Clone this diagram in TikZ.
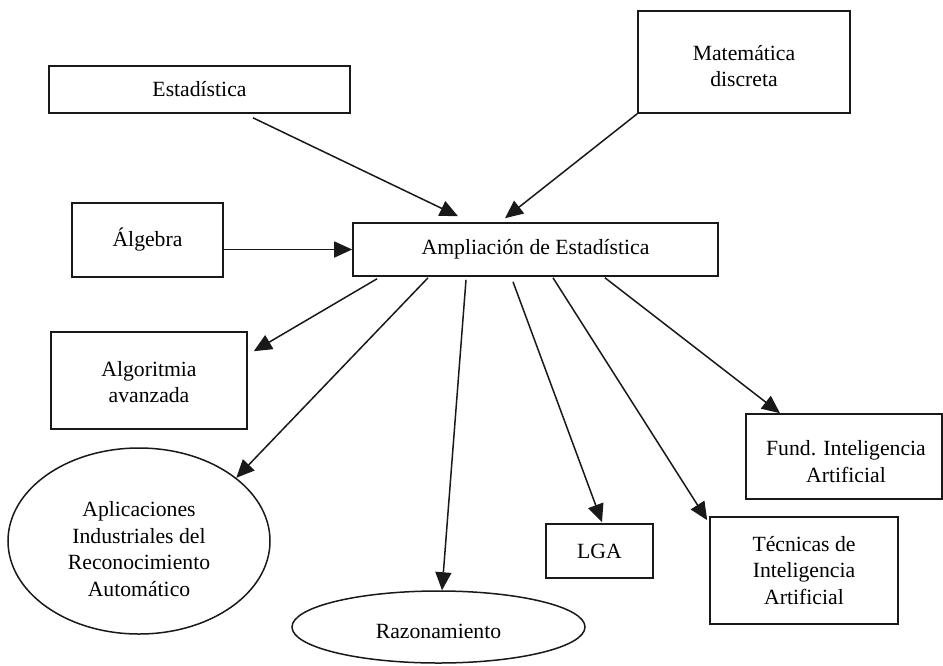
\documentclass[tikz,border=0pt]{standalone}
\usepackage{fontspec}
\setmainfont{Liberation Serif}
\usetikzlibrary{arrows.meta,shapes.geometric}
\begin{document}
\begin{tikzpicture}[x=1pt,y=-1pt,
  every node/.style={font=\fontsize{21.7}{26.5}\selectfont, align=center, inner sep=0pt},
  subjbox/.style={draw=black!90, line width=1.6pt, rectangle},
  subjoval/.style={draw=black!90, line width=1.5pt, ellipse},
  link/.style={draw=black!90, line width=1.5pt, -{Triangle[length=18pt,width=16pt]}}]

% canvas
\fill[white] (0,0) rectangle (943,665);
\useasboundingbox (0,0) rectangle (943,665);

% subjects (frames; a few texts sit a little below their frame centre)
\node[subjbox, minimum width=301pt, minimum height=47pt] (est) at (199.5,89.5) {Estadística};
\node[subjbox, minimum width=212pt, minimum height=102pt] (mat) at (744,62) {};
\node (mattext) at (744,66) {Matemática\\discreta};
\node[subjbox, minimum width=151pt, minimum height=74pt] (alg) at (147.5,240) {Álgebra};
\node[subjbox, minimum width=365pt, minimum height=53pt] (amp) at (535.5,249.5) {Ampliación de Estadística};
\node[subjbox, minimum width=196pt, minimum height=97pt] (algo) at (149,380.5) {};
\node (algotext) at (149,382) {Algoritmia\\avanzada};
\node[subjoval, minimum width=262pt, minimum height=186pt] (apl) at (139,541) {};
\node (apltext) at (139,549) {Aplicaciones\\Industriales del\\Reconocimiento\\Automático};
\node[subjoval, minimum width=293pt, minimum height=72pt] (raz) at (438.5,627) {};
\node (raztext) at (438.5,631) {Razonamiento};
\node[subjbox, minimum width=107pt, minimum height=54pt] (lga) at (599.5,551) {LGA};
\node[subjbox, minimum width=188pt, minimum height=107pt] (tec) at (804,570.5) {Técnicas de\\Inteligencia\\Artificial};
\node[subjbox, minimum width=196pt, minimum height=85pt] (fund) at (844,456.5) {};
\node (fundtext) at (846,461.5) {Fund. Inteligencia\\Artificial};

% prerequisites into Ampliación de Estadística
\draw[link] ([xshift=53.5pt,yshift=-4pt]est.south) -- ([xshift=-77.5pt,yshift=6pt]amp.north);
\draw[link] (mat.south west) -- ([xshift=-30.5pt,yshift=4pt]amp.north);
\draw[link] (alg.east |- amp.west) -- (amp.west);

% subjects that follow from Ampliación de Estadística
\draw[link] ([xshift=-158.5pt,yshift=-2pt]amp.south) -- ([xshift=6pt,yshift=-20pt]algo.north east);
\draw[link] ([xshift=-107.5pt,yshift=-1pt]amp.south) -- (apl.33);
\draw[link] ([xshift=-69.5pt,yshift=-3pt]amp.south) -- ([xshift=3.5pt]raz.north);
\draw[link] ([xshift=-22.5pt,yshift=-5pt]amp.south) -- ([xshift=2.5pt,yshift=1pt]lga.north);
\draw[link] ([xshift=17.5pt,yshift=-1pt]amp.south) -- ([xshift=-2pt,yshift=-4pt]tec.north west);
\draw[link] ([xshift=69.5pt,yshift=-1pt]amp.south) -- ([xshift=-64pt]fund.north);
\end{tikzpicture}
\end{document}
